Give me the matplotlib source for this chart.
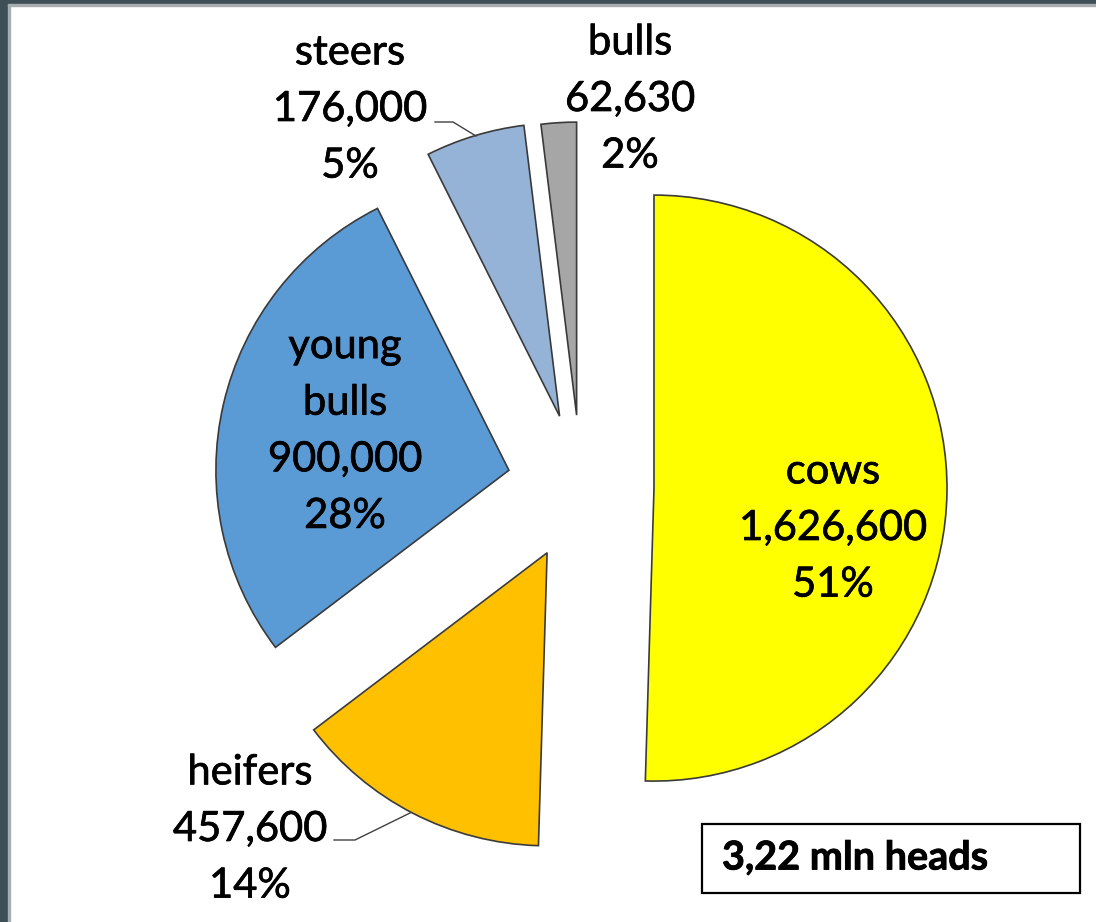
import matplotlib.pyplot as plt
import matplotlib.patheffects as pe
from matplotlib.patches import Rectangle

# cattle herd structure
categories = ['cows', 'heifers', 'young\nbulls', 'steers', 'bulls']
heads = [1626600, 457600, 900000, 176000, 62630]
shares = [51, 14, 28, 5, 2]
colors = ['#FFFF00', '#FFC000', '#5B9BD5', '#95B3D7', '#A6A6A6']
total_label = '3,22 mln heads'

W, H = 1096, 922
plt.rcParams['font.family'] = ['Lato', 'DejaVu Sans']

fig = plt.figure(figsize=(W / 100, H / 100), dpi=100)
ax = fig.add_axes([0, 0, 1, 1])

ax.pie(heads, colors=colors, startangle=90, counterclock=False,
       radius=293, center=(581, H - 487), explode=[73, 74, 74, 74, 72],
       wedgeprops=dict(edgecolor='#3a3a3a', linewidth=1.2))
ax.set_xlim(0, W)
ax.set_ylim(0, H)
ax.set_aspect('equal')
ax.axis('off')

# slightly heavier strokes for the labels
thick = [pe.withStroke(linewidth=0.5, foreground='black')]

# label block centres (pixels from top-left)
label_pos = [(833, 528), (250, 829), (345, 431), (350, 109), (630, 99)]
for name, n, pct, (x, y) in zip(categories, heads, shares, label_pos):
    ax.text(x, H - y, f'{name}\n{n:,}\n{pct}%', ha='center', va='center',
            fontsize=30, linespacing=1.6, color='black', path_effects=thick)

# leader lines for the outer labels
ax.plot([435, 453, 476], [H - 122, H - 122, H - 136], color='#404040', lw=1)
ax.plot([334, 355, 410], [H - 840, H - 840, H - 813], color='#404040', lw=1)

# total box
ax.add_patch(Rectangle((702, H - 893), 378, 69, facecolor='white',
                       edgecolor='black', lw=1.6))
ax.text(722, H - 858, total_label, ha='left', va='center',
        fontsize=28.5, fontweight='bold',
        path_effects=[pe.withStroke(linewidth=0.6, foreground='black')])

# window frame on the left and top
fig.add_artist(Rectangle((0, 0), 8 / W, 1, transform=fig.transFigure,
                         color='#3e4f57', zorder=10))
fig.add_artist(Rectangle((8 / W, 0), 2 / W, 1, transform=fig.transFigure,
                         color='#a8adb0', zorder=10))
fig.add_artist(Rectangle((0, 1 - 4 / H), 1, 4 / H, transform=fig.transFigure,
                         color='#3e4f57', zorder=10))
fig.add_artist(Rectangle((8 / W, 1 - 6 / H), 1, 2 / H, transform=fig.transFigure,
                         color='#a8adb0', zorder=10))

fig.savefig('out.png', dpi=100)
